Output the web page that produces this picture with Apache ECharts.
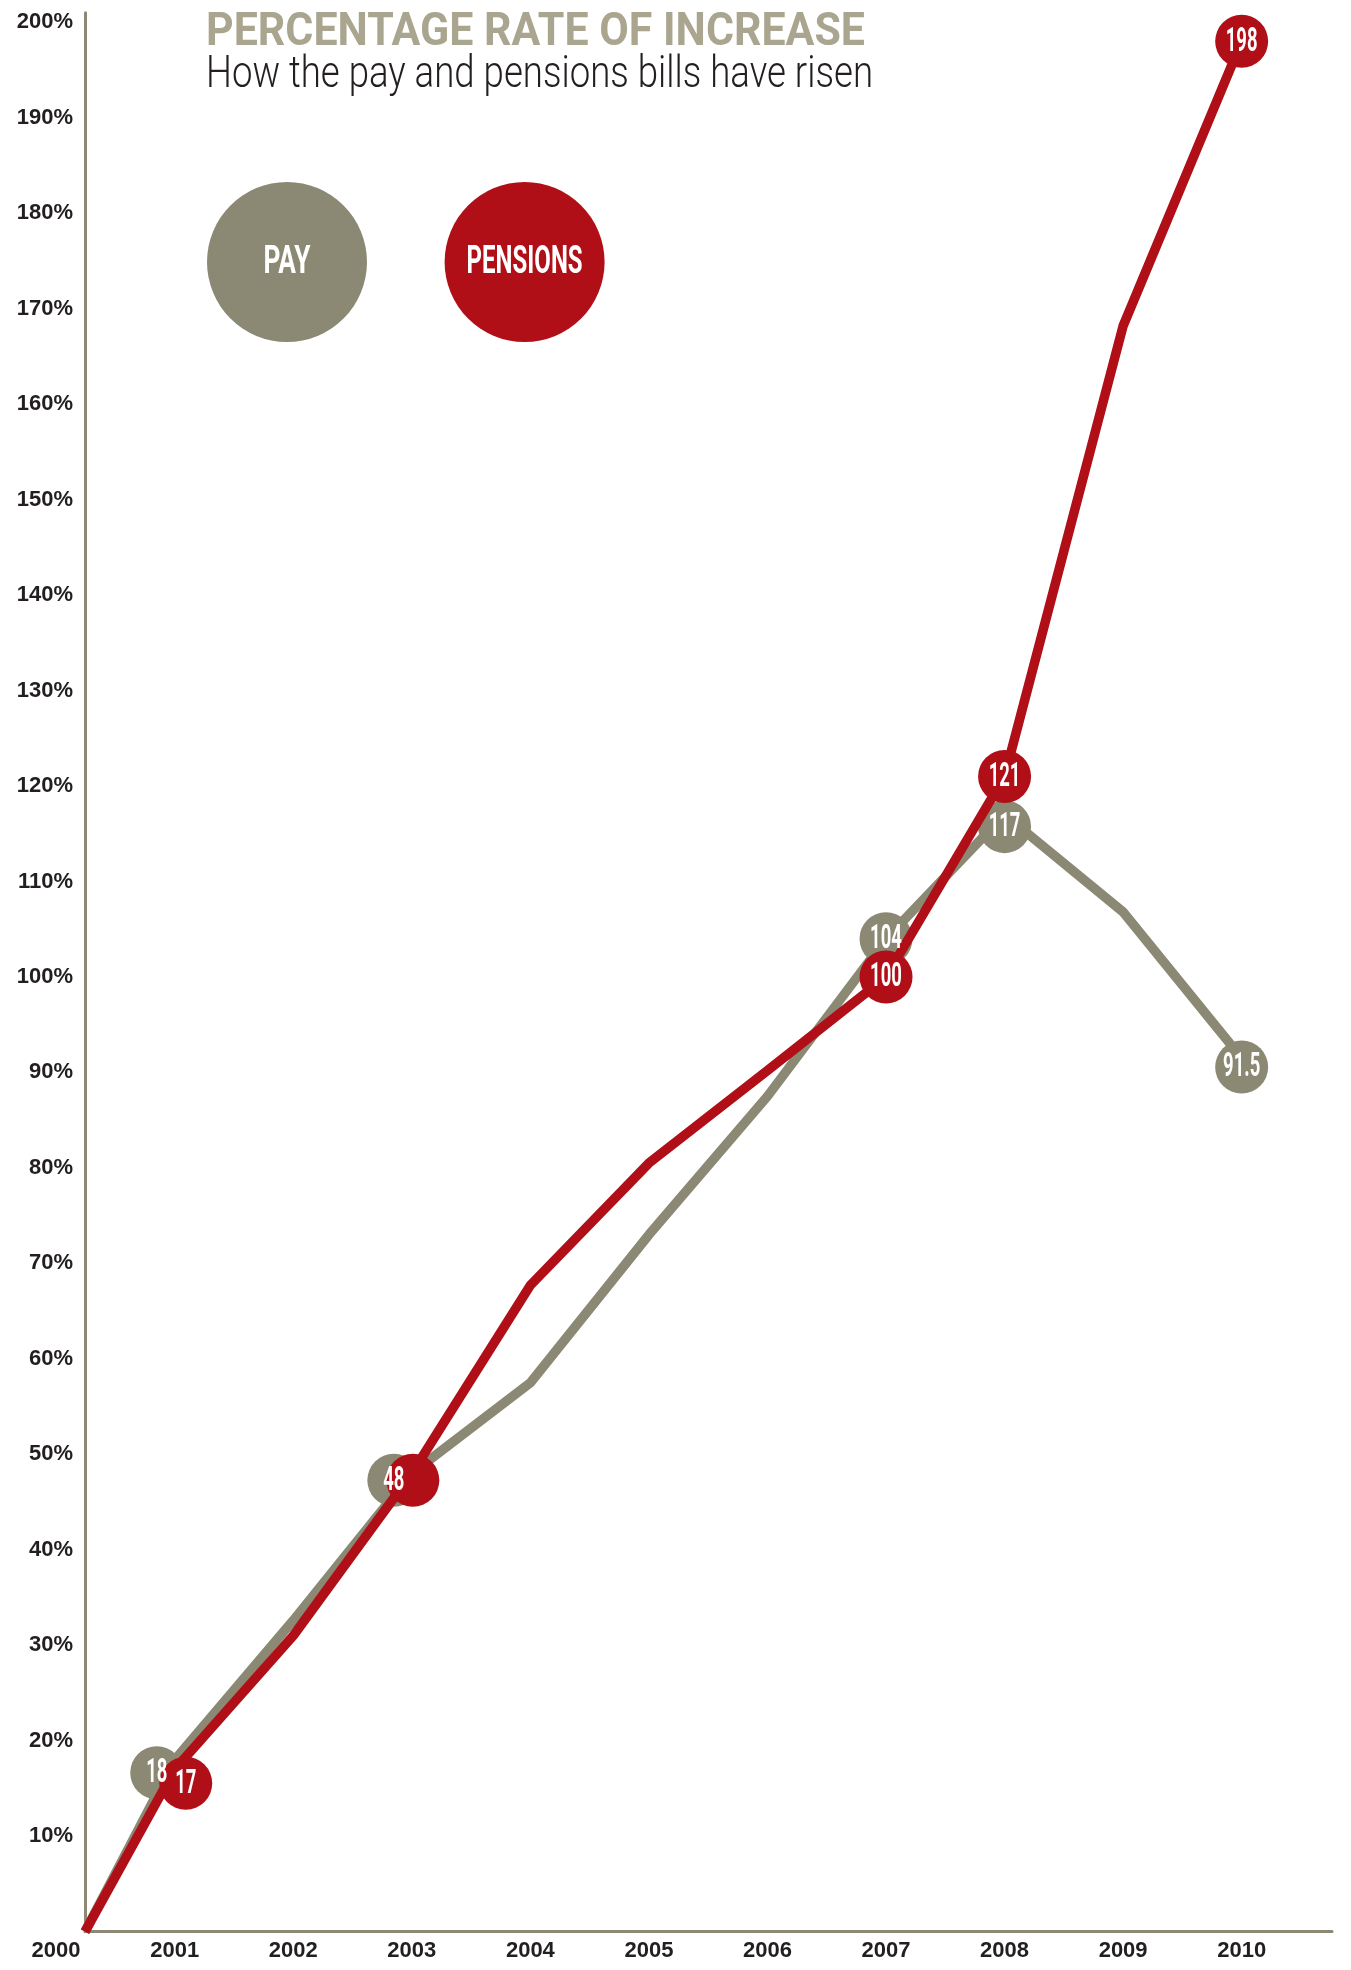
<!DOCTYPE html>
<html>
<head>
<meta charset="utf-8">
<script src="https://cdn.jsdelivr.net/npm/echarts@6/dist/echarts.min.js"></script>
<style>
html,body{margin:0;padding:0;background:#ffffff;}
#chart{width:1351px;height:1970px;}
</style>
</head>
<body>
<div id="chart"></div>
<script>
// ---------------- DATA ----------------
const years = [2000, 2001, 2002, 2003, 2004, 2005, 2006, 2007, 2008, 2009, 2010];
const payValues = [0, 18, 32.6, 48, 57.5, 73, 87.5, 104, 117, 106.8, 91.5];
const pensionValues = [0, 17, 31, 48, 67.7, 80.5, 90.2, 100, 121, 168.2, 198];
const payLabelledYears = [2001, 2003, 2007, 2008, 2010];
const pensionLabelledYears = [2001, 2003, 2007, 2008, 2010];
const pensionTextYears = [2001, 2007, 2008, 2010];
const seriesNames = ['PAY', 'PENSIONS'];
const yTickValues = [10, 20, 30, 40, 50, 60, 70, 80, 90, 100, 110, 120, 130, 140, 150, 160, 170, 180, 190, 200];
const titleText = 'PERCENTAGE RATE OF INCREASE';
const subtitleText = 'How the pay and pensions bills have risen';

// ---------------- STYLE / LAYOUT ----------------
const PAY_COLOR = '#8b8873';
const PEN_COLOR = '#b10f17';
const TITLE_COLOR = '#a9a58f';
const TEXT_COLOR = '#231f20';
const X_MIN = 2000.243, X_MAX = 2010.762;
const Y_MIN = 0, Y_MAX = 201;
// marker nudges (px) used by the original design so overlapping circles stay readable
const payMarkerOffsets = [[-18, 13], [-18, 7], [0, 0], [0, 12], [0, 9]];
const penMarkerOffsets = [[11, 14], [1, 7], [0, 0], [0, 0], [0, 0]];

const measureCtx = document.createElement('canvas').getContext('2d');
function textWidth(text, font) { measureCtx.font = font; return measureCtx.measureText(text).width; }

const chart = echarts.init(document.getElementById('chart'), null, {renderer: 'canvas'});

function lineData(values) {
  return years.map((y, i) => [Math.max(y, X_MIN), values[i]]);
}
function markerData(labelYears, values, offsets, textYears) {
  return labelYears.map((y, k) => {
    const v = values[years.indexOf(y)];
    return {value: [y, v, offsets[k][0], offsets[k][1]], showText: textYears.indexOf(y) >= 0};
  });
}
const payMarkers = markerData(payLabelledYears, payValues, payMarkerOffsets, payLabelledYears);
const penMarkers = markerData(pensionLabelledYears, pensionValues, penMarkerOffsets, pensionTextYears);

function circleSeries(name, data, color, z) {
  return {
    type: 'custom', name: name, z: z, silent: true, clip: false,
    data: data,
    encode: {x: 0, y: 1},
    renderItem: function (params, api) {
      const p = api.coord([api.value(0), api.value(1)]);
      return {
        type: 'circle',
        shape: {cx: p[0] + api.value(2), cy: p[1] + api.value(3), r: 26.5},
        style: {fill: color}
      };
    }
  };
}
function fmtVal(v) { return String(v); }
function textSeries(data, z) {
  return {
    type: 'custom', name: 'labels', z: z, silent: true, clip: false,
    data: data,
    encode: {x: 0, y: 1},
    renderItem: function (params, api) {
      const item = data[params.dataIndex];
      if (!item.showText) return null;
      const p = api.coord([api.value(0), api.value(1)]);
      return {
        type: 'text',
        x: p[0] + api.value(2),
        y: p[1] + api.value(3) + 1,
        scaleX: 0.56,
        style: {
          text: fmtVal(api.value(1)),
          fill: '#ffffff',
          font: '700 33px Roboto',
          align: 'center',
          verticalAlign: 'middle'
        }
      };
    }
  };
}

const allLabels = payMarkers.map(d => ({value: d.value, showText: d.showText}))
  .concat(penMarkers.map(d => ({value: d.value, showText: d.showText})));

// title graphics
const titleFont = '700 46px Roboto';
const subFont = '300 45px Roboto';
const titleScale = 659 / textWidth(titleText, titleFont);
const subScale = 667 / textWidth(subtitleText, subFont);
const legendFont = '700 39px Roboto';
const legendTargets = [47, 116];
const legendCenters = [[287, 262], [524.6, 262]];
const legendColors = [PAY_COLOR, PEN_COLOR];

const graphics = [
  {type: 'text', x: 206, y: 33, scaleX: titleScale, z: 10,
   style: {text: titleText, font: titleFont, fill: TITLE_COLOR, align: 'left', verticalAlign: 'middle'}},
  {type: 'text', x: 206, y: 76, scaleX: subScale, z: 10,
   style: {text: subtitleText, font: subFont, fill: TEXT_COLOR, align: 'left', verticalAlign: 'middle'}}
];
seriesNames.forEach((n, i) => {
  graphics.push({type: 'circle', shape: {cx: legendCenters[i][0], cy: legendCenters[i][1], r: 80},
    style: {fill: legendColors[i]}, z: 10});
  graphics.push({type: 'text', x: legendCenters[i][0], y: legendCenters[i][1] + 1,
    scaleX: legendTargets[i] / textWidth(n, legendFont), z: 11,
    style: {text: n, font: legendFont, fill: '#ffffff', align: 'center', verticalAlign: 'middle'}});
});

const option = {
  animation: false,
  backgroundColor: '#ffffff',
  grid: {left: 85, right: 19, top: 12.7, bottom: 38.4, containLabel: false},
  xAxis: {
    type: 'value', min: X_MIN, max: X_MAX, minInterval: 1, maxInterval: 1,
    axisLine: {show: true, onZero: false, lineStyle: {color: PAY_COLOR, width: 3}},
    axisTick: {show: false},
    splitLine: {show: false},
    axisLabel: {
      show: true, margin: 8, showMinLabel: true, showMaxLabel: true,
      color: TEXT_COLOR, fontFamily: 'Liberation Sans', fontWeight: 'bold', fontSize: 22,
      formatter: function (v) {
        if (v < years[0] + 0.5) return '{first|' + years[0] + '}';
        if (Math.abs(v - Math.round(v)) > 1e-6) return '';
        return String(Math.round(v));
      },
      rich: {first: {color: TEXT_COLOR, fontFamily: 'Liberation Sans', fontWeight: 'bold', fontSize: 22, padding: [0, 58, 0, 0]}}
    }
  },
  yAxis: {
    type: 'value', min: Y_MIN, max: Y_MAX, interval: 10,
    axisLine: {show: true, lineStyle: {color: PAY_COLOR, width: 3}},
    axisTick: {show: false},
    splitLine: {show: false},
    axisLabel: {
      show: true, margin: 12, showMaxLabel: false,
      color: TEXT_COLOR, fontFamily: 'Liberation Sans', fontWeight: 'bold', fontSize: 22,
      padding: [14, 0, 0, 0],
      formatter: function (v) { return yTickValues.indexOf(v) >= 0 ? v + '%' : ''; }
    }
  },
  series: [
    {type: 'line', name: seriesNames[0], data: lineData(payValues), showSymbol: false, z: 2,
     lineStyle: {color: PAY_COLOR, width: 9.5}, itemStyle: {color: PAY_COLOR}, silent: true},
    circleSeries(seriesNames[0] + ' markers', payMarkers.map(d => d.value), PAY_COLOR, 3),
    {type: 'line', name: seriesNames[1], data: lineData(pensionValues), showSymbol: false, z: 4,
     lineStyle: {color: PEN_COLOR, width: 9.5}, itemStyle: {color: PEN_COLOR}, silent: true},
    circleSeries(seriesNames[1] + ' markers', penMarkers.map(d => d.value), PEN_COLOR, 5),
    textSeries(allLabels, 6)
  ],
  graphic: graphics
};
chart.setOption(option);
</script>
</body>
</html>
